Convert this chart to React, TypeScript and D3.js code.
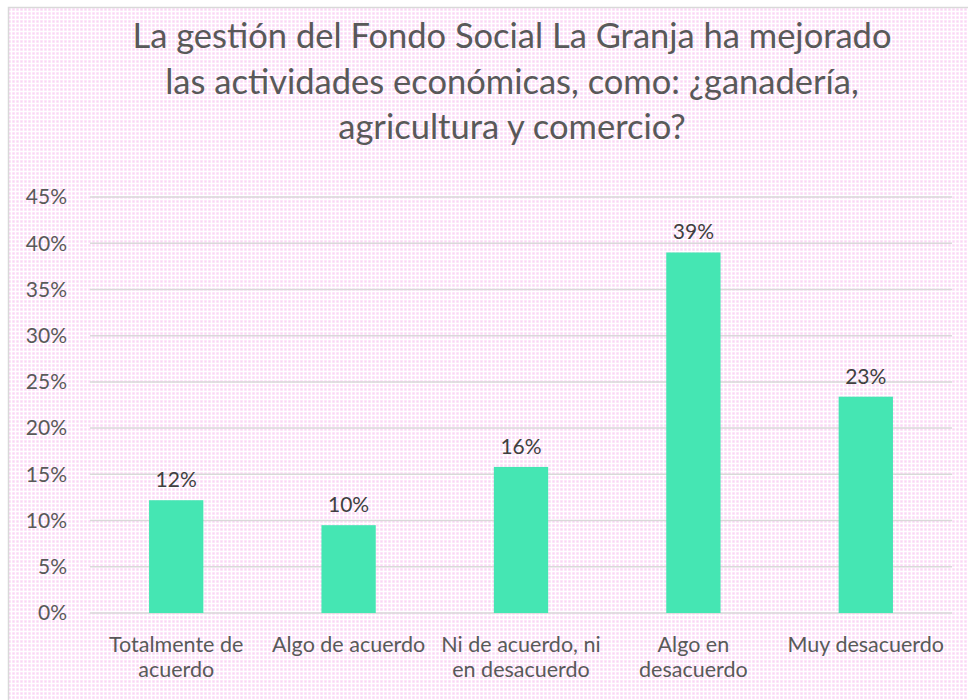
import React from 'react';
import * as d3 from 'd3';

// data
const categories = [
  ['Totalmente de', 'acuerdo'],
  ['Algo de acuerdo'],
  ['Ni de acuerdo, ni', 'en desacuerdo'],
  ['Algo en', 'desacuerdo'],
  ['Muy desacuerdo'],
];
const values = [0.122, 0.095, 0.158, 0.39, 0.234];
const yTicks = [0, 0.05, 0.1, 0.15, 0.2, 0.25, 0.3, 0.35, 0.4, 0.45];
const titleLines = [
  'La gestión del Fondo Social La Granja ha mejorado',
  'las actividades económicas, como: ¿ganadería,',
  'agricultura y comercio?',
];

const W = 968;
const H = 700;
const FONT = 'Lato, "Noto Sans", sans-serif';

export default function App() {
  const margin = { top: 197, right: 16, bottom: 87, left: 90 };
  const innerW = W - margin.left - margin.right;
  const innerH = H - margin.top - margin.bottom;

  const x = d3.scaleBand<number>()
    .domain(d3.range(categories.length))
    .range([0, innerW])
    .paddingInner(0.685)
    .paddingOuter(0.3425);
  const y = d3.scaleLinear().domain([0, 0.45]).range([innerH, 0]);
  const fmt = d3.format('.0%');

  return (
    <svg width={W} height={H} style={{ position: 'absolute', left: 0, top: 0 }}>
      <defs>
        <pattern id="dots" width={4} height={4} patternUnits="userSpaceOnUse">
          <rect width={4} height={4} fill="#fff" />
          <rect x={0} y={0} width={3} height={3} fill="#fef0fc" />
          <rect x={0.5} y={0.5} width={2} height={2} fill="#fad6f5" />
        </pattern>
      </defs>
      <rect x={8.5} y={7.5} width={W} height={H} fill="url(#dots)" stroke="#d9d9d9" strokeWidth={1.5} />

      <g fontFamily={FONT} fill="#595959" textAnchor="middle" fontSize={34.5}>
        {titleLines.map((t, i) => (
          <text key={i} x={512} y={48 + i * 45.5}>{t}</text>
        ))}
      </g>

      <g transform={`translate(${margin.left},${margin.top})`} fontFamily={FONT}>
        {yTicks.map((t) => (
          <g key={t} transform={`translate(0,${y(t)})`}>
            <line x1={0} x2={innerW - 0} stroke="#d9d9d9" strokeWidth={1.5} />
            <text x={-23} dy="0.35em" textAnchor="end" fontSize={21} fill="#595959">{fmt(t)}</text>
          </g>
        ))}

        {values.map((v, i) => (
          <g key={i}>
            <rect x={x(i)} y={y(v)} width={x.bandwidth()} height={innerH - y(v)} fill="#45e6b3" />
            <text x={(x(i) ?? 0) + x.bandwidth() / 2} y={y(v) - 13} textAnchor="middle" fontSize={21} fill="#404040">
              {fmt(v)}
            </text>
          </g>
        ))}

        {categories.map((lines, i) => (
          <text key={i} textAnchor="middle" fontSize={21.5} fill="#595959">
            {lines.map((l, j) => (
              <tspan key={j} x={(x(i) ?? 0) + x.bandwidth() / 2} y={innerH + 39 + j * 25}>{l}</tspan>
            ))}
          </text>
        ))}
      </g>
    </svg>
  );
}
